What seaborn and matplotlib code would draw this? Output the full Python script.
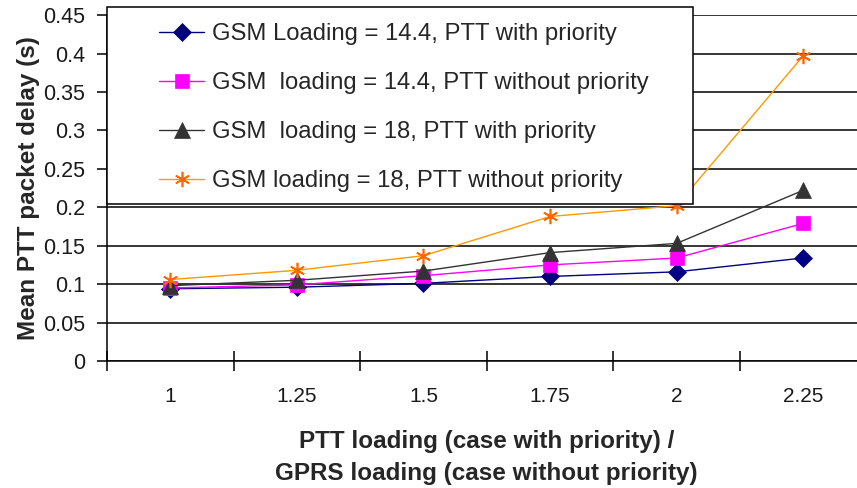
import numpy as np
import pandas as pd
import matplotlib
matplotlib.use("Agg")
import matplotlib.pyplot as plt
import seaborn as sns
from matplotlib.patches import Rectangle
from matplotlib.lines import Line2D
from matplotlib.ticker import MultipleLocator, FixedLocator, FuncFormatter, NullFormatter

# ---- data ----
loadings = ["1", "1.25", "1.5", "1.75", "2", "2.25"]
gsm144_with_prio = [0.094, 0.096, 0.101, 0.110, 0.116, 0.134]
gsm144_without_prio = [0.095, 0.099, 0.111, 0.125, 0.134, 0.179]
gsm18_with_prio = [0.098, 0.105, 0.117, 0.141, 0.153, 0.222]
gsm18_without_prio = [0.106, 0.118, 0.137, 0.188, 0.202, 0.397]
series_labels = [
    "GSM Loading = 14.4, PTT with priority",
    "GSM  loading = 14.4, PTT without priority",
    "GSM  loading = 18, PTT with priority",
    "GSM loading = 18, PTT without priority",
]
y_label = "Mean PTT packet delay (s)"
x_label = "PTT loading (case with priority) /\nGPRS loading (case without priority)"

sns.set_theme(style="white")
plt.rcParams["font.family"] = ["Liberation Sans", "DejaVu Sans"]

W, H = 857, 488
fig = plt.figure(figsize=(W / 100, H / 100), dpi=100)
fig.patch.set_facecolor("white")
ax = fig.add_axes([107 / W, 1 - 361 / H, 759.5 / W, (361 - 14.7) / H])
ax.set_facecolor("white")

styles = [
    dict(color="#000080", marker="D", ms=9.5, mfc="#000080", mec="#000080", mew=0.5),
    dict(color="#FF00FF", marker="s", ms=10, mfc="#FF00FF", mec="#FF00FF", mew=0.5),
    dict(color="#333333", marker="^", ms=11, mfc="#333333", mec="#333333", mew=0.5),
    dict(color="#FF9900", marker=(6, 2, 0), ms=11, mfc="#FF6600", mec="#FF6600", mew=1.2),
]
all_values = [gsm144_with_prio, gsm144_without_prio, gsm18_with_prio, gsm18_without_prio]

handles = []
for label, values, st in zip(series_labels, all_values, styles):
    df = pd.DataFrame({"loading": loadings, "delay": values})
    sns.lineplot(data=df, x="loading", y="delay", ax=ax, color=st["color"],
                 marker=st["marker"], markersize=st["ms"], markerfacecolor=st["mfc"],
                 markeredgecolor=st["mec"], markeredgewidth=st["mew"],
                 linewidth=1.0, errorbar=None, sort=False, legend=False)
    handles.append(Line2D([], [], color=st["color"], marker=st["marker"], markersize=st["ms"],
                          markerfacecolor=st["mfc"], markeredgecolor=st["mec"],
                          markeredgewidth=st["mew"], linewidth=1.0))

ax.set_xlim(-0.5, 5.5)
ax.set_ylim(0, 0.4505)
ax.yaxis.set_major_locator(MultipleLocator(0.05))
ax.yaxis.set_major_formatter(FuncFormatter(lambda v, p: f"{round(v, 3):g}"))
ax.xaxis.set_minor_locator(FixedLocator(np.arange(-0.5, 6.0, 1.0)))
ax.xaxis.set_minor_formatter(NullFormatter())

for s in ["top", "right"]:
    ax.spines[s].set_visible(False)
for s in ["left", "bottom"]:
    ax.spines[s].set_color("black")
    ax.spines[s].set_linewidth(1.1)

ax.yaxis.grid(True, color="black", linewidth=1.1)
ax.xaxis.grid(False)
ax.set_axisbelow(True)

ax.tick_params(axis="x", which="major", length=0, pad=19, labelsize=15, labelcolor="#1a1a1a")
ax.tick_params(axis="x", which="minor", direction="inout", length=14, width=1.1, color="black", bottom=True)
ax.tick_params(axis="y", which="major", direction="out", length=7, width=1.1, color="black",
               left=True, pad=9, labelsize=15.5, labelcolor="#1a1a1a")

ax.set_xlabel(x_label, fontsize=17.5, fontweight="bold", labelpad=17, linespacing=1.48)
ax.set_ylabel(y_label, fontsize=17.5, fontweight="bold", labelpad=2)

# legend box
fig.add_artist(Rectangle((107 / W, 1 - 204 / H), 586 / W, 197 / H, transform=fig.transFigure,
                         facecolor="white", edgecolor="black", linewidth=1.1, zorder=3))
leg = fig.legend(handles, series_labels, loc="upper left", bbox_to_anchor=(159 / W, 1 - 23 / H),
                 frameon=False, fontsize=17.2, handlelength=1.9, handletextpad=0.33,
                 labelspacing=1.13, borderpad=0, borderaxespad=0)
leg.set_zorder(4)

fig.savefig("out.png", dpi=100, facecolor="white")
